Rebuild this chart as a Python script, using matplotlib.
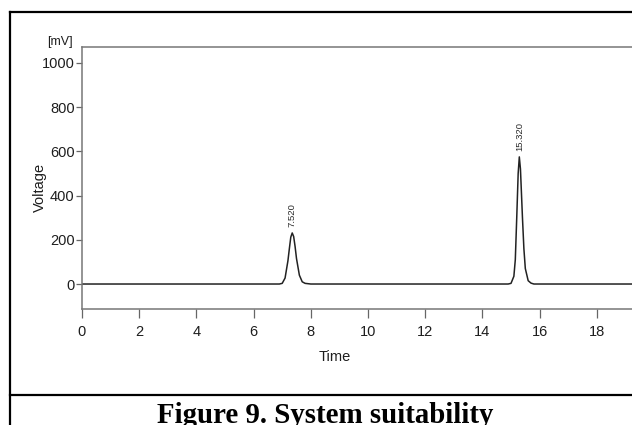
import matplotlib
matplotlib.use("Agg")
import matplotlib.pyplot as plt
from matplotlib.lines import Line2D

plt.rcParams['font.family'] = ['Liberation Sans', 'DejaVu Sans']

# chromatogram points (min, mV)
time = [0.0, 6.9, 7.0, 7.1, 7.2, 7.25, 7.3, 7.35, 7.4, 7.45, 7.5, 7.6, 7.7, 7.8, 8.0,
        14.9, 15.0, 15.1, 15.15, 15.2, 15.25, 15.29, 15.33, 15.4, 15.45, 15.5, 15.6, 15.7, 15.8, 19.3]
voltage = [0, 0, 3, 27, 105, 160, 212, 231, 215, 170, 115, 40, 10, 3, 0,
           0, 3, 35, 110, 300, 500, 575, 520, 300, 160, 70, 15, 4, 0, 0]

peak_times = [7.35, 15.29]
peak_heights = [231, 575]
peak_labels = ["7.520", "15.320"]

x_ticks = [0, 2, 4, 6, 8, 10, 12, 14, 16, 18]
y_ticks = [0, 200, 400, 600, 800, 1000]

fig = plt.figure(figsize=(6.32, 4.25), dpi=100)
ax = fig.add_axes([82 / 632, 1 - 309 / 425, 1 - 82 / 632, (309 - 47) / 425])

ax.plot(time, voltage, color="#222222", lw=1.1)
for t, h, lab in zip(peak_times, peak_heights, peak_labels):
    ax.annotate(lab, (t, h), xytext=(0, 4), textcoords="offset points",
                rotation=90, ha="center", va="bottom", fontsize=6.8, color="#2a2a2a")

ax.set_xlim(0, 19.23)
ax.set_ylim(-113, 1072)
ax.set_xticks(x_ticks)
ax.set_yticks(y_ticks)
ax.tick_params(axis="x", length=6.5, width=0.9, color="#666666", labelsize=10.5, pad=5, labelcolor="#1e1e1e")
ax.tick_params(axis="y", length=4.3, width=0.9, color="#666666", labelsize=10.5, pad=1, labelcolor="#1e1e1e")
for side in ["left", "bottom", "top"]:
    ax.spines[side].set_color("#777777")
    ax.spines[side].set_linewidth(1.1)
ax.spines["right"].set_visible(False)

ax.set_xlabel("Time", fontsize=10.5, color="#1e1e1e")
ax.set_ylabel("Voltage", fontsize=10.5, color="#1e1e1e")
ax.yaxis.set_label_coords(-0.064, 0.464)
ax.xaxis.set_label_coords(0.46, -0.155)
fig.text(60 / 632, 1 - 42 / 425, "[mV]", fontsize=9, ha="center", va="center", color="#1e1e1e")

# table cell borders around the figure
fig.add_artist(Line2D([10 / 632, 1], [1 - 12 / 425] * 2, color="black", lw=1.6))
fig.add_artist(Line2D([10 / 632] * 2, [0, 1 - 12 / 425], color="black", lw=1.6))
fig.add_artist(Line2D([10 / 632, 1], [1 - 395 / 425] * 2, color="black", lw=1.6))

# caption runs off the bottom edge, as in the source page
fig.text(325 / 632, 1 - 402 / 425, "Figure 9. System suitability", family="Liberation Serif",
         fontweight="bold", fontsize=20.8, ha="center", va="top")

fig.savefig("out.png", dpi=100)
